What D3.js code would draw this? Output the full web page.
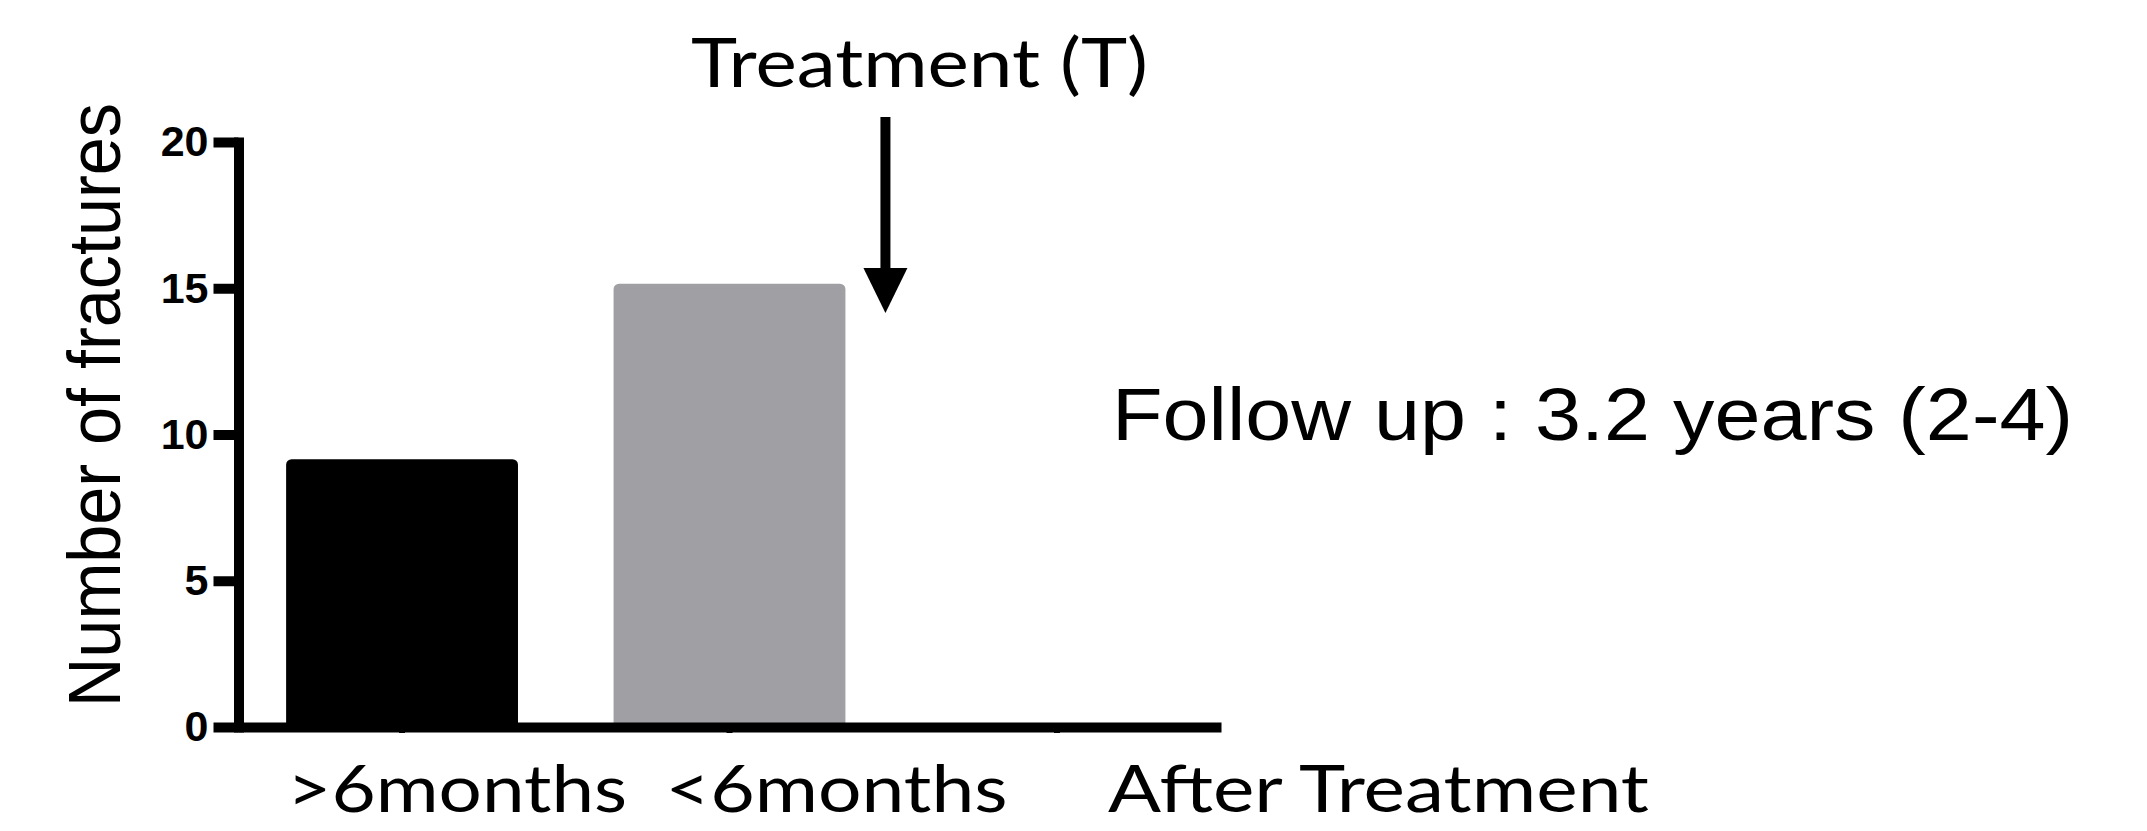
<!DOCTYPE html>
<html>
<head>
<meta charset="utf-8">
<script src="https://cdn.jsdelivr.net/npm/d3@7"></script>
<style>
  html, body { margin: 0; padding: 0; background: #ffffff; }
  svg { display: block; }
</style>
</head>
<body>
<svg></svg>
<script>
// Data
const categories = [">6months", "<6months", "After Treatment"];
const fractures = [9, 15, 0];
const yTicks = [0, 5, 10, 15, 20];
const yTitle = "Number of fractures";
const arrowLabel = "Treatment (T)";
const followUp = "Follow up : 3.2 years (2-4)";

const width = 2147;
const height = 831;

let svg = d3.select("svg");
let xScale;
let yScale;
let colorScale;

function drawSvg() {
  svg.attr("width", width).attr("height", height);
  svg.append("rect")
    .attr("width", width)
    .attr("height", height)
    .attr("fill", "#ffffff");
}

function escalas() {
  xScale = d3.scaleBand()
    .domain(categories)
    .range([238, 1221])
    .paddingInner(0.298)
    .paddingOuter(0.15);

  yScale = d3.scaleLinear()
    .domain([0, 20])
    .range([727, 142]);

  colorScale = d3.scaleOrdinal()
    .domain(categories)
    .range(["#000000", "#a09fa4", "#ffffff"]);
}

function drawBars() {
  let rows = categories.map((c, i) => ({ cat: c, value: fractures[i] }));
  svg.append("g")
    .selectAll("rect")
    .data(rows.filter((d) => d.value > 0))
    .enter()
    .append("rect")
    .attr("x", (d) => xScale(d.cat) + 1.5)
    .attr("y", (d) => yScale(d.value) - 2)
    .attr("width", xScale.bandwidth() - 3)
    .attr("height", (d) => yScale(0) - yScale(d.value) + 2)
    .attr("rx", 3)
    .attr("fill", (d) => colorScale(d.cat))
    .attr("stroke", (d) => colorScale(d.cat))
    .attr("stroke-width", 5);
}

function generateAxes() {
  // y axis, thick GraphPad style
  let yAxis = d3.axisLeft(yScale)
    .tickValues(yTicks)
    .tickSize(25)
    .tickSizeOuter(0)
    .tickPadding(5);

  let gy = svg.append("g")
    .attr("transform", "translate(238.5,0)")
    .call(yAxis);
  gy.select(".domain")
    .attr("stroke", "#000")
    .attr("stroke-width", 10)
    .attr("stroke-linecap", "square");
  gy.selectAll(".tick line")
    .attr("stroke", "#000")
    .attr("stroke-width", 10);
  gy.selectAll(".tick text")
    .attr("fill", "#000")
    .style("font-family", "'Liberation Sans', Arial, sans-serif")
    .style("font-weight", "bold")
    .style("font-size", "43px");

  // x axis
  let xAxis = d3.axisBottom(xScale)
    .tickSize(6)
    .tickSizeOuter(0)
    .tickFormat("");

  let gx = svg.append("g")
    .attr("transform", "translate(0," + yScale(0) + ")")
    .call(xAxis);
  gx.select(".domain")
    .attr("stroke", "#000")
    .attr("stroke-width", 10);
  gx.selectAll(".tick line")
    .attr("stroke", "#000")
    .attr("stroke-width", 6);
}

function drawTexts() {
  // y title
  svg.append("text")
    .attr("transform", "translate(120,405) rotate(-90)")
    .attr("text-anchor", "middle")
    .attr("textLength", 604)
    .attr("lengthAdjust", "spacingAndGlyphs")
    .style("font-family", "'Liberation Sans', Arial, sans-serif")
    .style("font-size", "75px")
    .attr("fill", "#000")
    .text(yTitle);

  // category labels under the axis (typed on the slide, not centred)
  let shift = [0, 51, 166];
  let lens = [340, 342, 541];
  svg.append("g")
    .selectAll("text")
    .data(categories)
    .enter()
    .append("text")
    .attr("x", (d, i) => xScale(d) + shift[i])
    .attr("y", 812)
    .attr("textLength", (d, i) => lens[i])
    .attr("lengthAdjust", "spacingAndGlyphs")
    .style("font-family", "Lato, 'Open Sans', sans-serif")
    .style("font-size", "66px")
    .attr("fill", "#000")
    .text((d) => d);

  // treatment arrow
  let ax = xScale(categories[1]) + xScale.bandwidth() + 41;
  svg.append("line")
    .attr("x1", ax).attr("x2", ax)
    .attr("y1", 117).attr("y2", 272)
    .attr("stroke", "#000")
    .attr("stroke-width", 10);
  svg.append("path")
    .attr("d", d3.line()([[ax - 22, 268], [ax + 22, 268], [ax, 313]]) + "Z")
    .attr("fill", "#000");

  svg.append("text")
    .attr("x", 691)
    .attr("y", 87)
    .attr("textLength", 457)
    .attr("lengthAdjust", "spacingAndGlyphs")
    .style("font-family", "Lato, 'Open Sans', sans-serif")
    .style("font-size", "67px")
    .attr("fill", "#000")
    .text(arrowLabel);

  svg.append("text")
    .attr("x", 1112)
    .attr("y", 440)
    .attr("textLength", 961)
    .attr("lengthAdjust", "spacingAndGlyphs")
    .style("font-family", "'Liberation Sans', Arial, sans-serif")
    .style("font-size", "75px")
    .attr("fill", "#000")
    .text(followUp);
}

drawSvg();
escalas();
drawBars();
generateAxes();
drawTexts();
</script>
</body>
</html>
